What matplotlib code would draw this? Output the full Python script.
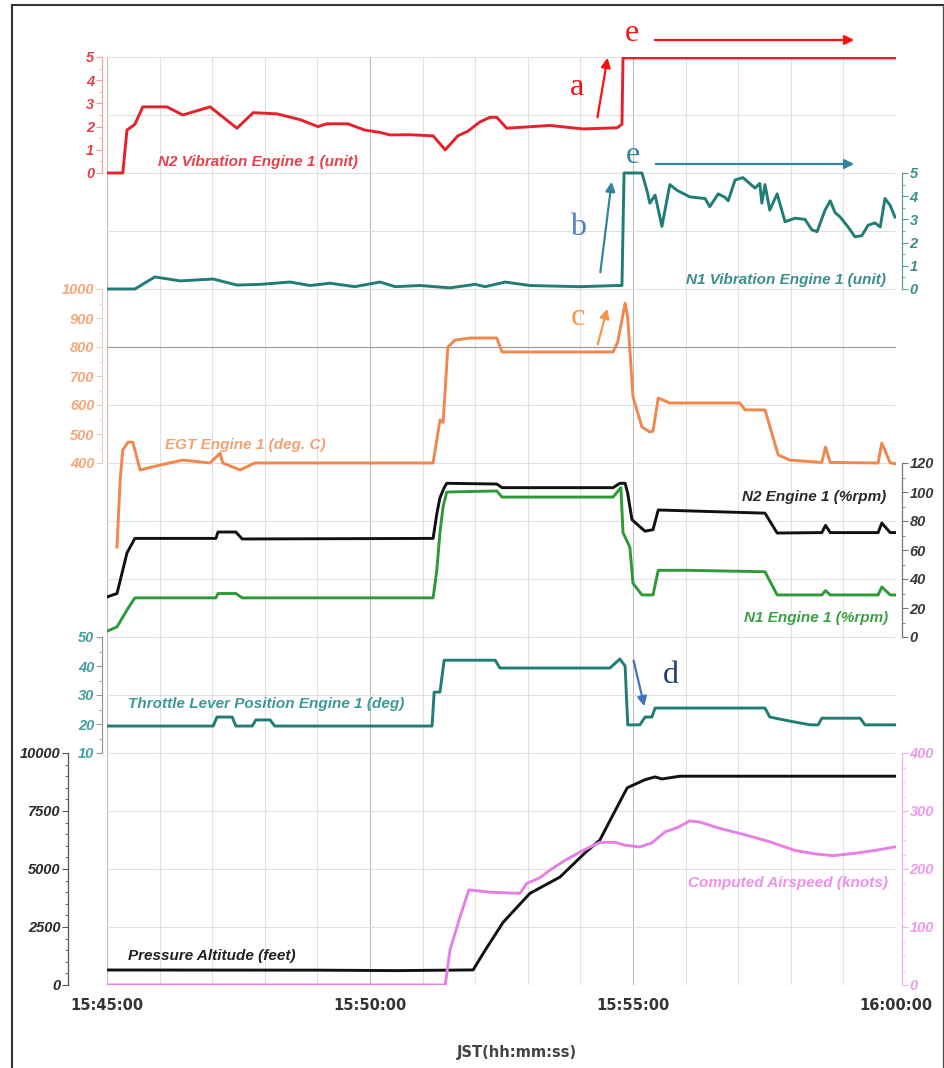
import matplotlib
matplotlib.use("Agg")
import matplotlib.pyplot as plt
from matplotlib.lines import Line2D
from matplotlib.ticker import MultipleLocator, FuncFormatter

# time in minutes after 15:45:00
n2_vib_t = [0, 0.30, 0.38, 0.53, 0.68, 1.14, 1.44, 1.96, 2.47, 2.78, 3.23, 3.67, 4.01, 4.18,
            4.58, 4.90, 5.19, 5.38, 5.76, 6.20, 6.43, 6.67, 6.86, 7.09, 7.28, 7.41, 7.60,
            8.42, 9.05, 9.70, 9.79, 9.81, 14.98]
n2_vib = [0, 0, 1.85, 2.1, 2.85, 2.85, 2.5, 2.85, 1.93, 2.6, 2.55, 2.3, 2.0, 2.12,
          2.12, 1.85, 1.75, 1.64, 1.65, 1.6, 1.0, 1.6, 1.8, 2.2, 2.4, 2.4, 1.93,
          2.05, 1.9, 1.95, 2.1, 4.96, 4.96]

n1_vib_t = [0, 0.53, 0.91, 1.39, 2.02, 2.47, 2.91, 3.48, 3.86, 4.24, 4.71, 5.19, 5.48, 5.95,
            6.52, 7.00, 7.19, 7.57, 8.04, 8.99, 9.70, 9.79, 9.83, 10.17, 10.27, 10.32, 10.42,
            10.55, 10.70, 10.84, 11.08, 11.37, 11.46, 11.62, 11.75, 11.81, 11.94, 12.09,
            12.32, 12.41, 12.45, 12.51, 12.60, 12.74, 12.89, 13.08, 13.27, 13.40, 13.50,
            13.65, 13.75, 13.84, 13.94, 14.09, 14.22, 14.35, 14.47, 14.60, 14.70, 14.79,
            14.89, 14.98]
n1_vib = [0, 0, 0.52, 0.35, 0.43, 0.17, 0.2, 0.3, 0.15, 0.25, 0.1, 0.3, 0.1, 0.15,
          0.05, 0.2, 0.1, 0.3, 0.15, 0.1, 0.15, 0.15, 5.0, 5.0, 4.2, 3.7, 4.05,
          2.7, 4.5, 4.25, 3.97, 3.9, 3.55, 4.1, 3.95, 3.8, 4.7, 4.8,
          4.35, 4.55, 3.7, 4.5, 3.4, 4.1, 2.9, 3.05, 3.0, 2.55, 2.47,
          3.4, 3.8, 3.3, 3.1, 2.67, 2.25, 2.3, 2.75, 2.85, 2.67, 3.9,
          3.6, 3.1]

egt_t = [0.19, 0.25, 0.30, 0.40, 0.49, 0.63, 1.01, 1.44, 1.96, 2.15, 2.20, 2.53, 2.81, 6.20,
         6.33, 6.39, 6.48, 6.62, 6.90, 7.41, 7.51, 9.62, 9.71, 9.85, 9.90, 10.00, 10.17,
         10.32, 10.38, 10.48, 10.70, 12.03, 12.13, 12.51, 12.76, 12.98, 13.59, 13.66,
         13.75, 14.66, 14.73, 14.89, 14.98]
egt = [110, 341, 445, 472, 472, 376, 393, 410, 400, 434, 400, 376, 400, 400,
       548, 540, 800, 824, 831, 831, 783, 783, 817, 951, 900, 628, 524,
       507, 510, 624, 607, 607, 583, 583, 428, 410, 402, 455,
       402, 400, 469, 400, 398]

n2_t = [0, 0.19, 0.38, 0.44, 0.53, 2.07, 2.11, 2.45, 2.57, 6.20, 6.27, 6.33, 6.41, 6.46,
        7.41, 7.51, 9.62, 9.75, 9.85, 9.90, 9.98, 10.13, 10.23, 10.38, 10.48, 11.03, 12.51,
        12.74, 13.59, 13.66, 13.75, 14.66, 14.73, 14.89, 14.98]
n2 = [27.6, 30, 58, 62, 68, 68, 72.4, 72.4, 67.6, 68, 85, 96, 103, 106,
      105.5, 103, 103, 106, 106, 99, 81, 76, 73, 74, 87.6, 87, 85.4,
      71.7, 72, 77, 72, 72, 78.6, 72, 72]

n1_t = [0, 0.19, 0.38, 0.44, 0.53, 2.07, 2.11, 2.45, 2.57, 6.20, 6.27, 6.33, 6.39, 6.46,
        7.41, 7.51, 9.62, 9.77, 9.81, 9.94, 10.00, 10.17, 10.38, 10.48, 11.03, 12.51,
        12.74, 13.59, 13.66, 13.75, 14.66, 14.73, 14.89, 14.98]
n1 = [4, 7, 18.6, 22, 27, 27, 30, 30, 27, 27, 46, 72, 90, 100,
      100.7, 96.5, 96.5, 103, 72, 62, 37, 29, 29, 46, 46, 45,
      29, 29, 32, 29, 29, 34.5, 29, 29]

tla_t = [0, 2.02, 2.09, 2.38, 2.45, 2.76, 2.83, 3.10, 3.19, 6.18, 6.22, 6.33, 6.41, 7.38,
         7.47, 9.56, 9.75, 9.85, 9.90, 10.13, 10.23, 10.36, 10.42, 12.51, 12.60, 12.98,
         13.37, 13.52, 13.59, 14.32, 14.41, 14.98]
tla = [19.3, 19.3, 22.4, 22.4, 19.3, 19.3, 21.4, 21.4, 19.3, 19.3, 31, 31, 42, 42,
       39.3, 39.3, 42.4, 40, 19.7, 19.7, 22.4, 22.4, 25.5, 25.5, 22.4, 21,
       19.7, 19.7, 22, 22, 19.7, 19.7]

alt_t = [0, 4.0, 5.5, 6.96, 7.19, 7.53, 8.04, 8.61, 9.09, 9.37, 9.60, 9.89, 10.23, 10.42,
         10.55, 10.89, 14.98]
alt = [647, 640, 620, 650, 1500, 2700, 3950, 4650, 5700, 6250, 7250, 8500, 8850, 8970,
       8880, 9000, 9000]

cas_t = [0, 6.43, 6.52, 6.71, 6.88, 7.28, 7.85, 7.98, 8.23, 8.42, 8.71, 9.05, 9.37, 9.66,
         9.85, 10.13, 10.36, 10.61, 10.86, 11.08, 11.27, 11.65, 12.13, 12.60, 13.08, 13.46,
         13.80, 14.22, 14.60, 14.98]
cas = [0, 0, 60, 117, 164, 160, 158, 175, 185, 198, 215, 232, 246, 246,
       241, 238, 245, 264, 272, 283, 281, 270, 259, 247, 232, 226,
       223, 227, 232, 238]

W, H = 944, 1068
fig = plt.figure(figsize=(W / 100, H / 100), dpi=100)
plt.rcParams["font.family"] = ["Liberation Sans", "DejaVu Sans"]

L, R, T, B = 107, 896, 57, 985
rect = [L / W, 1 - B / H, (R - L) / W, (B - T) / H]


def fx(px):
    return px / W


def fy(py):
    return 1 - py / H


base = fig.add_axes(rect)
base.set_xlim(0, 15)
base.set_ylim(0, 16)
base.xaxis.set_major_locator(MultipleLocator(5))
base.xaxis.set_minor_locator(MultipleLocator(1))
base.yaxis.set_major_locator(MultipleLocator(1))
base.grid(True, which="major", axis="x", color="#bdbdbd", lw=0.8)
base.grid(True, which="minor", axis="x", color="#e0e0e0", lw=0.8)
base.grid(True, which="major", axis="y", color="#e0e0e0", lw=0.8)
base.axhline(11, color="#9a9a9a", lw=0.8)
base.tick_params(axis="y", left=False, labelleft=False)
base.tick_params(axis="x", which="both", length=0, pad=9, labelsize=10.5,
                 labelcolor="#333333")
base.xaxis.set_major_formatter(FuncFormatter(
    lambda v, p: "15:%02d:00" % (45 + int(v)) if v < 15 else "16:00:00"))
for lab in base.get_xticklabels():
    lab.set_fontweight("bold")
    lab.set_family("DejaVu Sans")
for s in base.spines.values():
    s.set_visible(False)


def band_axis(ylim, side, offset_px, bounds, major, minor, spine_color, lab_color):
    ax = fig.add_axes(rect, sharex=base)
    ax.patch.set_visible(False)
    ax.set_ylim(*ylim)
    ax.xaxis.set_visible(False)
    for k, s in ax.spines.items():
        s.set_visible(k == side)
    sp = ax.spines[side]
    sp.set_position(("outward", offset_px * 0.72))
    sp.set_bounds(*bounds)
    sp.set_color(spine_color)
    sp.set_linewidth(0.9)
    if side == "right":
        ax.yaxis.tick_right()
    else:
        ax.yaxis.tick_left()
    ticks = []
    v = bounds[0]
    while v <= bounds[1] + 1e-9:
        ticks.append(v)
        v += major
    mticks = []
    v = bounds[0]
    while v <= bounds[1] + 1e-9:
        mticks.append(v)
        v += minor
    ax.set_yticks(ticks)
    ax.set_yticks(mticks, minor=True)
    ax.tick_params(axis="y", which="major", length=4, width=0.8, color=spine_color,
                   labelsize=10.5, labelcolor=lab_color, pad=1.5)
    ax.tick_params(axis="y", which="minor", length=2, width=0.6, color=spine_color)
    for lab in ax.get_yticklabels():
        lab.set_fontstyle("italic")
        lab.set_fontweight("bold")
    return ax


red = "#e5222b"
teal = "#1f7d76"
orange = "#f0874d"
green = "#2e9a36"
pink = "#e67fe6"

ax_n2v = band_axis((-35, 5), "left", 5, (0, 5), 1, 0.5, "#f2a0a0", "#e8404a")
ax_n1v = band_axis((-30, 10), "right", 6, (0, 5), 1, 0.5, "#5a9e9a", "#3a8f8a")
ax_egt = band_axis((-1400, 1800), "left", 5, (400, 1000), 100, 50, "#e8d0c0", "#f5a777")
ax_rpm = band_axis((-240, 400), "right", 6, (0, 120), 20, 10, "#777777", "#3a3a3a")
ax_tla = band_axis((-70, 250), "left", 5, (10, 50), 10, 5, "#999999", "#45a0a0")
ax_alt = band_axis((0, 40000), "left", 39, (0, 10000), 2500, 500, "#555555", "#2a2a2a")
ax_cas = band_axis((0, 1600), "right", 6, (0, 400), 100, 25, "#f0b0f0", "#ee9aee")

lw = 2.1
ax_n2v.plot(n2_vib_t, n2_vib, color=red, lw=lw)
ax_n1v.plot(n1_vib_t, n1_vib, color=teal, lw=lw)
ax_egt.plot(egt_t, egt, color=orange, lw=lw)
ax_rpm.plot(n2_t, n2, color="#111111", lw=lw)
ax_rpm.plot(n1_t, n1, color=green, lw=lw)
ax_tla.plot(tla_t, tla, color=teal, lw=lw)
ax_alt.plot(alt_t, alt, color="#111111", lw=lw)
ax_cas.plot(cas_t, cas, color=pink, lw=lw)

# series labels
lab_kw = dict(fontsize=11, fontstyle="italic", fontweight="bold", va="center")
fig.text(fx(158), fy(162), "N2 Vibration Engine 1 (unit)", color="#e8404a", ha="left", **lab_kw)
fig.text(fx(886), fy(280), "N1 Vibration Engine 1 (unit)", color="#3a8f8a", ha="right", **lab_kw)
fig.text(fx(165), fy(445), "EGT Engine 1 (deg. C)", color="#f5a070", ha="left", **lab_kw)
fig.text(fx(886), fy(497), "N2 Engine 1 (%rpm)", color="#2a2a2a", ha="right", **lab_kw)
fig.text(fx(888), fy(618), "N1 Engine 1 (%rpm)", color="#3aa044", ha="right", **lab_kw)
fig.text(fx(128), fy(704), "Throttle Lever Position Engine 1 (deg)", color="#3a9a95", ha="left", **lab_kw)
fig.text(fx(128), fy(956), "Pressure Altitude (feet)", color="#222222", ha="left", **lab_kw)
fig.text(fx(888), fy(883), "Computed Airspeed (knots)", color="#ee90ee", ha="right", **lab_kw)

fig.text(fx(517), fy(1052), "JST(hh:mm:ss)", color="#444444", ha="center", va="center",
         fontsize=10.5, fontweight="bold", family="DejaVu Sans")

# annotation letters (baseline positions) and arrows
let_kw = dict(fontsize=23, family="Liberation Serif", ha="center", va="baseline")
fig.text(fx(577), fy(95), "a", color="#ff1010", **let_kw)
fig.text(fx(632), fy(41), "e", color="#ff1010", **let_kw)
fig.text(fx(633), fy(163), "e", color="#31859c", **let_kw)
fig.text(fx(578), fy(235), "b", color="#4f7fbf", **let_kw)
fig.text(fx(578), fy(325), "c", color="#f79646", **let_kw)
fig.text(fx(671), fy(683), "d", color="#1f3d7a", **let_kw)


def arrow(x0, y0, x1, y1, color):
    fig.add_artist(matplotlib.patches.FancyArrowPatch(
        (fx(x0), fy(y0)), (fx(x1), fy(y1)), transform=fig.transFigure,
        arrowstyle="-|>", mutation_scale=14, lw=1.6, color=color))


arrow(597, 120, 608, 55, "#ff1010")
arrow(652, 40, 857, 40, "#ff1010")
arrow(653, 164, 857, 164, "#31859c")
arrow(600, 275, 612, 179, "#31859c")
arrow(597, 347, 608, 306, "#f79646")
arrow(633, 658, 645, 709, "#4472c4")

# outer frame
fig.add_artist(Line2D([fx(12), fx(12)], [fy(5), fy(1068)], color="#333333", lw=1.5))
fig.add_artist(Line2D([fx(12), fx(943)], [fy(5), fy(5)], color="#333333", lw=1.5))
fig.add_artist(Line2D([fx(943), fx(943)], [fy(5), fy(1068)], color="#555555", lw=1.0))

fig.savefig("out.png", dpi=100)
